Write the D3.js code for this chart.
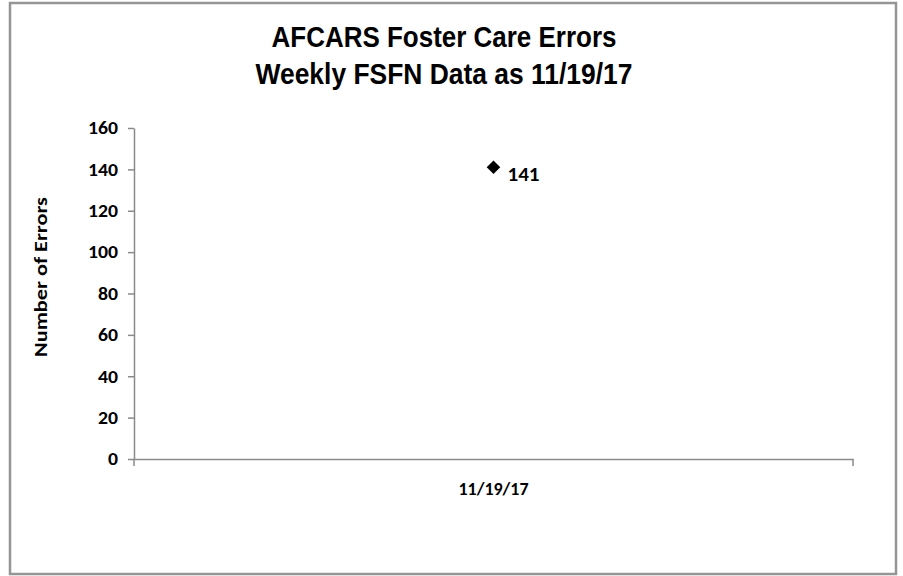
<!DOCTYPE html>
<html>
<head>
<meta charset="utf-8">
<script src="https://cdn.jsdelivr.net/npm/d3@7"></script>
<style>
  body { margin: 0; background: #fff; }
  svg { display: block; }
</style>
</head>
<body>
<div id="chart"></div>
<script>
// chart values
const categories = ["11/19/17"];
const errorCounts = [141];
const yTicks = [0, 20, 40, 60, 80, 100, 120, 140, 160];
const titleLines = ["AFCARS Foster Care Errors", "Weekly FSFN Data as 11/19/17"];
const yLabel = "Number of Errors";

const width = 903;
const height = 576;
const axisColor = "#8a8a8a";
const labelFont = "Carlito, Calibri, 'Open Sans', sans-serif";
const titleFont = "'Liberation Sans Narrow', 'Arial Narrow', 'Liberation Sans', Arial, sans-serif";

const svg = d3.select("#chart")
  .append("svg")
  .attr("width", width)
  .attr("height", height);

// outer frame
svg.append("rect")
  .attr("x", 10)
  .attr("y", 3)
  .attr("width", 886)
  .attr("height", 571)
  .attr("fill", "#fff")
  .attr("stroke", "#959595")
  .attr("stroke-width", 2.5);

// title
const titleWidths = [345, 377];
svg.selectAll(".title")
  .data(titleLines)
  .join("text")
  .attr("class", "title")
  .attr("x", 444)
  .attr("y", (d, i) => 47 + i * 37)
  .attr("text-anchor", "middle")
  .attr("textLength", (d, i) => titleWidths[i])
  .attr("lengthAdjust", "spacingAndGlyphs")
  .style("font-family", titleFont)
  .style("font-weight", "bold")
  .style("font-size", "29px")
  .style("fill", "#000")
  .text(d => d);

const x = d3.scaleBand()
  .domain(categories)
  .range([134, 853]);

const y = d3.scaleLinear()
  .domain([0, 160])
  .range([459, 128]);

// y axis
const yAxis = svg.append("g")
  .attr("transform", `translate(${x.range()[0]},0)`)
  .call(d3.axisLeft(y).tickValues(yTicks).tickSize(6).tickPadding(10).tickSizeOuter(0));

yAxis.select(".domain").attr("stroke", axisColor).attr("stroke-width", 1.5);
yAxis.selectAll(".tick line").attr("stroke", axisColor).attr("stroke-width", 1.5);
yAxis.selectAll(".tick text")
  .style("font-family", labelFont)
  .style("font-weight", "bold")
  .style("font-size", "18px")
  .style("fill", "#000")
  .each(function () {
    const t = d3.select(this);
    t.attr("textLength", t.text().length * 10).attr("lengthAdjust", "spacingAndGlyphs");
  });

// x axis
const xAxis = svg.append("g")
  .attr("transform", `translate(0,${y(0)})`)
  .call(d3.axisBottom(x).tickSize(0).tickPadding(23).tickSizeOuter(0));

xAxis.select(".domain").attr("stroke", axisColor).attr("stroke-width", 1.5);
xAxis.selectAll(".tick text")
  .style("font-family", labelFont)
  .style("font-weight", "bold")
  .style("font-size", "18px")
  .style("fill", "#000")
  .attr("textLength", 70)
  .attr("lengthAdjust", "spacingAndGlyphs");

// category boundary ticks
const bounds = categories.map(c => x(c)).concat([x(categories[categories.length - 1]) + x.bandwidth()]);
xAxis.selectAll(".bound")
  .data(bounds)
  .join("line")
  .attr("class", "bound")
  .attr("x1", d => d)
  .attr("x2", d => d)
  .attr("y1", 0)
  .attr("y2", 7)
  .attr("stroke", axisColor)
  .attr("stroke-width", 1.5);

// y axis title
svg.append("text")
  .attr("transform", "translate(47,277) rotate(-90)")
  .attr("text-anchor", "middle")
  .attr("textLength", 160)
  .attr("lengthAdjust", "spacingAndGlyphs")
  .style("font-family", labelFont)
  .style("font-weight", "bold")
  .style("font-size", "17px")
  .style("fill", "#000")
  .text(yLabel);

// points
const pts = categories.map((c, i) => ({ cat: c, value: errorCounts[i] }));

svg.selectAll(".pt")
  .data(pts)
  .join("path")
  .attr("class", "pt")
  .attr("d", d3.symbol().type(d3.symbolSquare).size(92))
  .attr("transform", d => `translate(${x(d.cat) + x.bandwidth() / 2},${y(d.value)}) rotate(45)`)
  .attr("fill", "#000");

svg.selectAll(".lbl")
  .data(pts)
  .join("text")
  .attr("class", "lbl")
  .attr("x", d => x(d.cat) + x.bandwidth() / 2 + 14)
  .attr("y", d => y(d.value) + 14)
  .attr("textLength", 32)
  .attr("lengthAdjust", "spacingAndGlyphs")
  .style("font-family", labelFont)
  .style("font-weight", "bold")
  .style("font-size", "20px")
  .style("fill", "#000")
  .text(d => d.value);
</script>
</body>
</html>
